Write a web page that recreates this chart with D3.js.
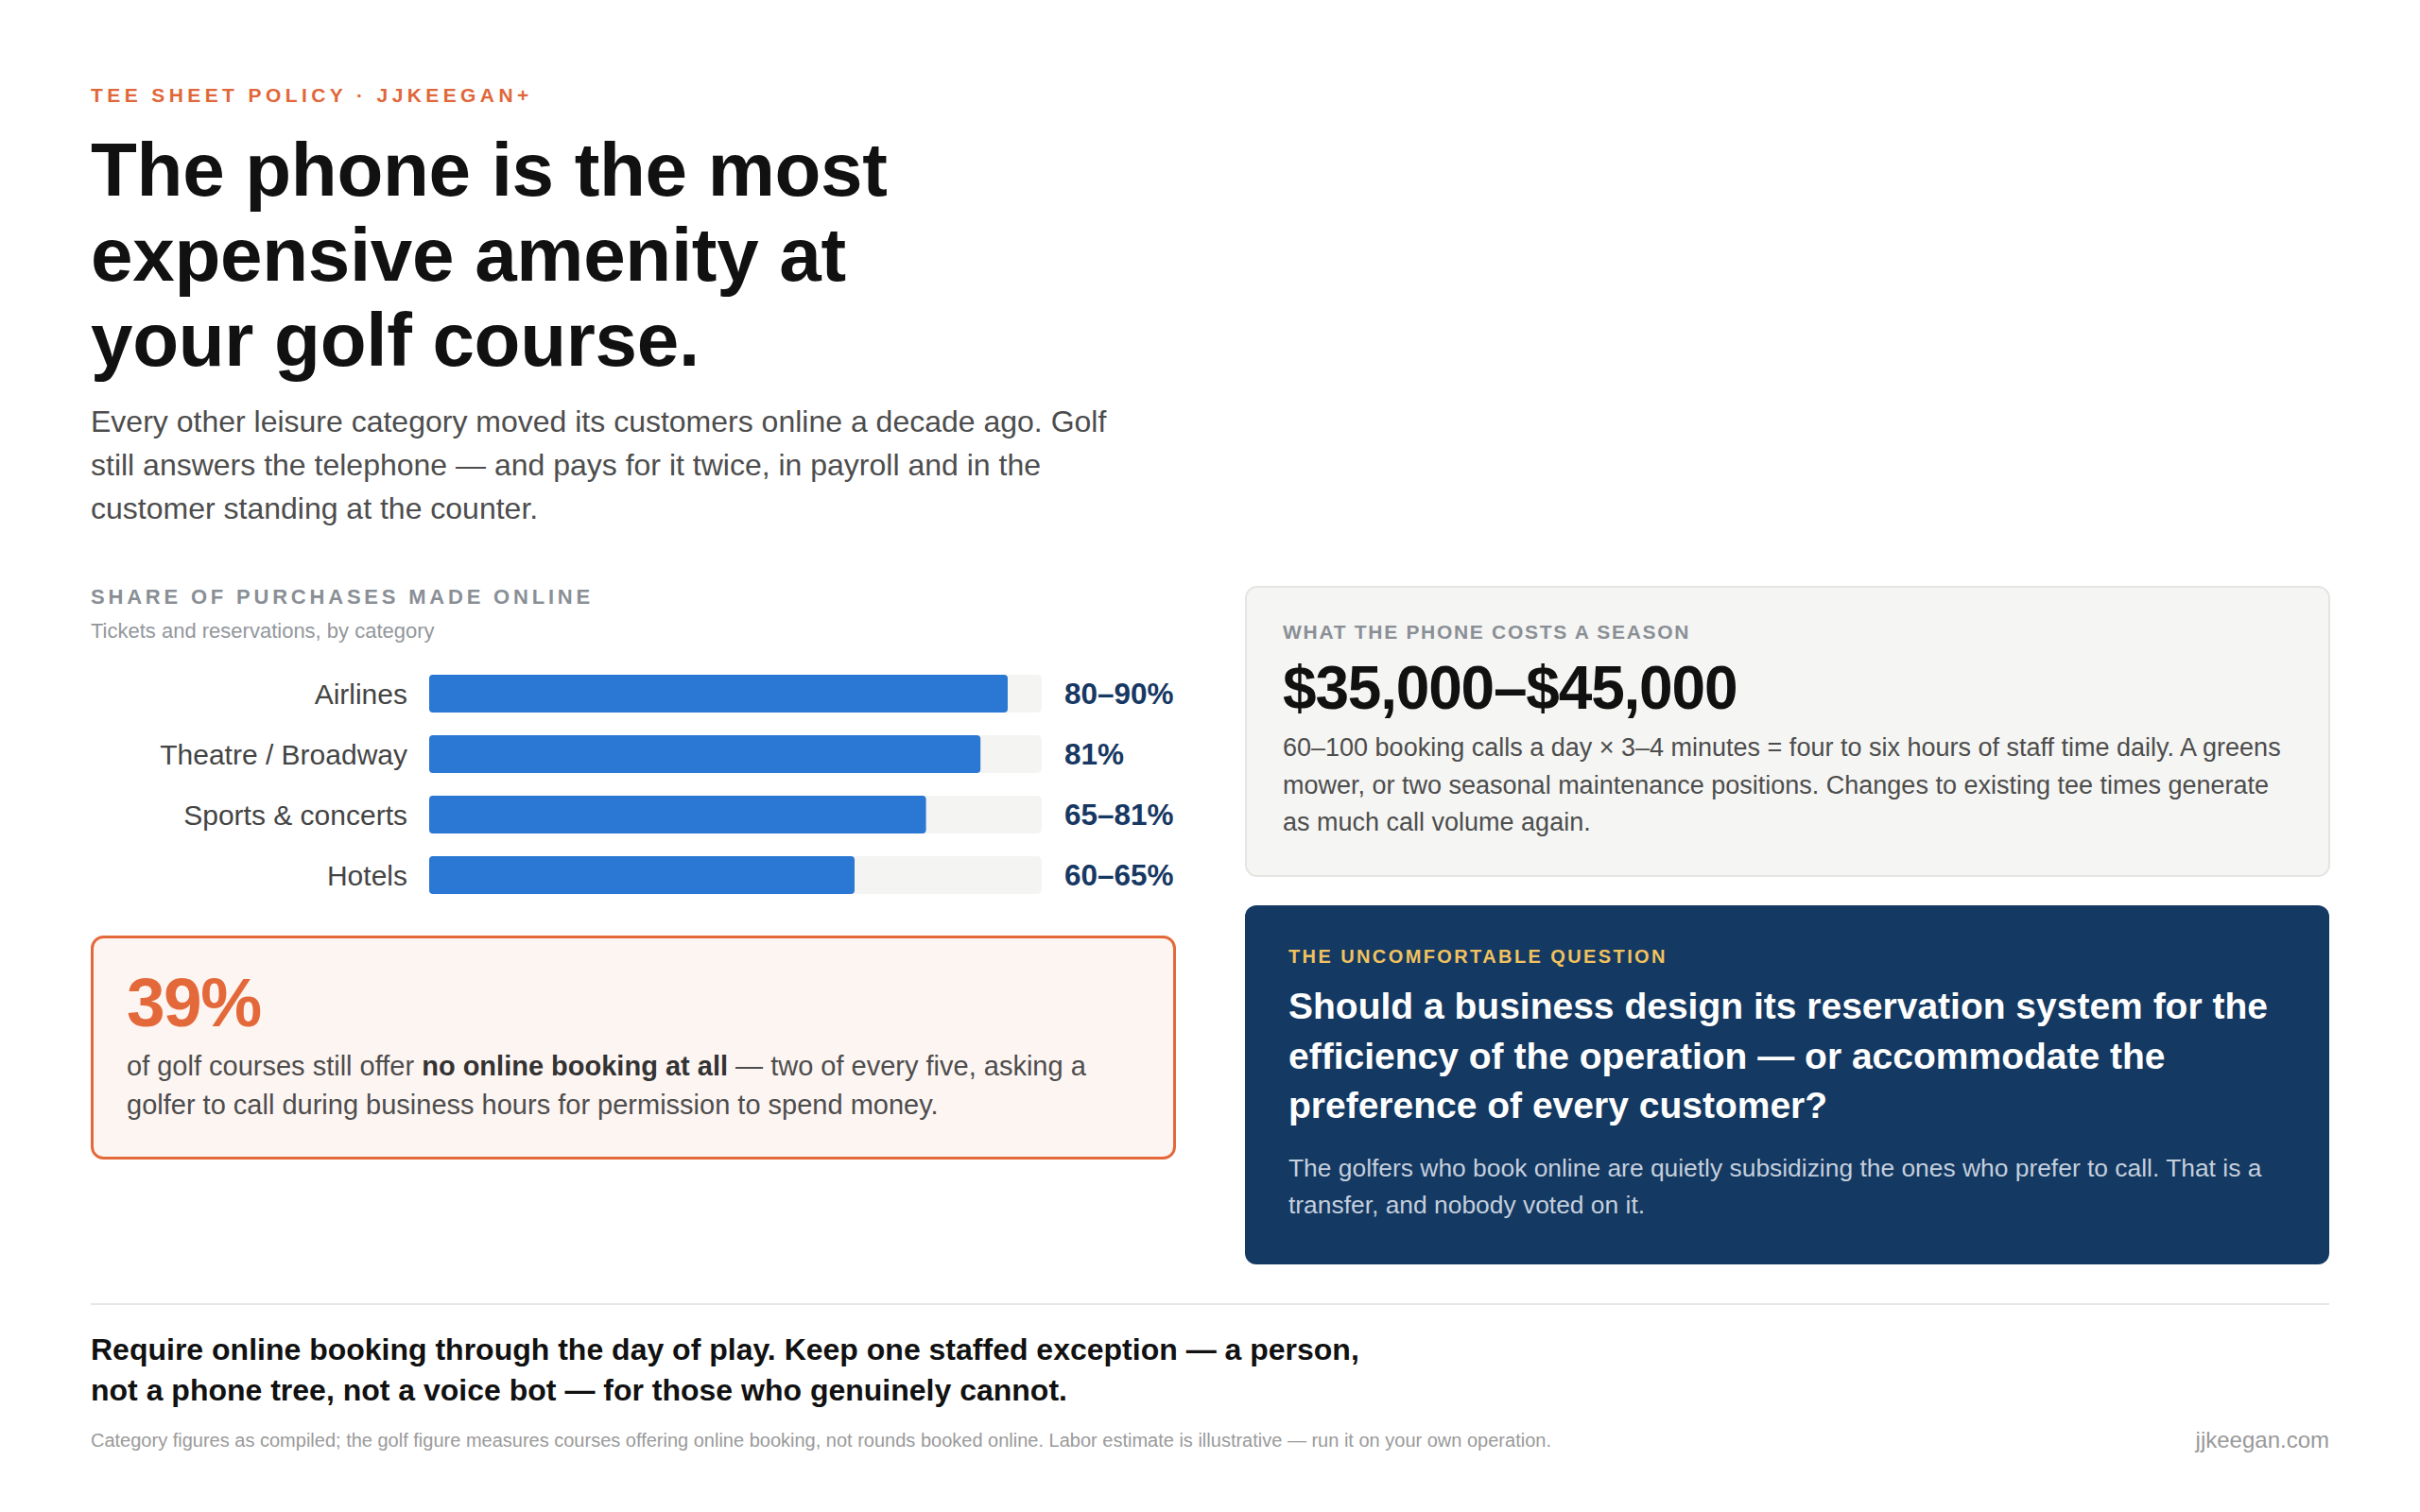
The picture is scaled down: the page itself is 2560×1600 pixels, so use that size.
<!DOCTYPE html>
<meta charset="utf-8">
<style>
  body { margin: 0; background: #fff; }
  svg text { font-family: "Liberation Sans", Arial, Helvetica, sans-serif; }
</style>
<svg width="2560" height="1600"></svg>
<script src="https://d3js.org/d3.v7.min.js"></script>
<script>

// ---- data ----
var categories = ["Airlines", "Theatre / Broadway", "Sports & concerts", "Hotels"];
var barValues = [85, 81, 73, 62.5];          // bar length (mid of range), percent
var valueLabels = ["80–90%", "81%", "65–81%", "60–65%"];
var axisMax = 90;

var titleLines = ["The phone is the most", "expensive amenity at", "your golf course."];
var deckLines = [
  "Every other leisure category moved its customers online a decade ago. Golf",
  "still answers the telephone — and pays for it twice, in payroll and in the",
  "customer standing at the counter."
];
var costLines = [
  "60–100 booking calls a day × 3–4 minutes = four to six hours of staff time daily. A greens",
  "mower, or two seasonal maintenance positions. Changes to existing tee times generate",
  "as much call volume again."
];
var questionLines = [
  "Should a business design its reservation system for the",
  "efficiency of the operation — or accommodate the",
  "preference of every customer?"
];
var answerLines = [
  "The golfers who book online are quietly subsidizing the ones who prefer to call. That is a",
  "transfer, and nobody voted on it."
];
var policyLines = [
  "Require online booking through the day of play. Keep one staffed exception — a person,",
  "not a phone tree, not a voice bot — for those who genuinely cannot."
];

var svg = d3.select("svg"),
    left = 96, right = 2464,
    colW = 1148, col2 = 1317;

function lines(g, arr, x, y0, lh) {
  g.selectAll(null).data(arr).enter().append("tspan")
    .attr("x", x).attr("y", function(d, i) { return y0 + i * lh; })
    .text(function(d) { return d; });
}

// ---- header ----
svg.append("text")
    .attr("x", left).attr("y", 108)
    .attr("font-size", 21).attr("font-weight", "bold")
    .attr("letter-spacing", 4.4).attr("fill", "#e0673a")
    .text("TEE SHEET POLICY · JJKEEGAN+");

var title = svg.append("text")
    .attr("font-size", 80).attr("font-weight", "bold").attr("fill", "#111")
    .attr("letter-spacing", -0.3);
lines(title, titleLines, left, 207, 90);

var deck = svg.append("text").attr("font-size", 32).attr("fill", "#4d4d4d");
lines(deck, deckLines, left, 457, 46);

// ---- bar chart ----
svg.append("text")
    .attr("x", left).attr("y", 639)
    .attr("font-size", 22).attr("font-weight", "bold")
    .attr("letter-spacing", 3.8).attr("fill", "#8a8f96")
    .text("SHARE OF PURCHASES MADE ONLINE");

svg.append("text")
    .attr("x", left).attr("y", 675)
    .attr("font-size", 22).attr("fill", "#93979c")
    .text("Tickets and reservations, by category");

var x = d3.scaleLinear().domain([0, axisMax]).range([454, 1102]);
var y = d3.scaleBand().domain(categories).range([702, 958])
    .paddingInner(0.375).paddingOuter(0.1875);

var rows = svg.append("g").selectAll("g")
    .data(categories).enter().append("g");

rows.append("rect")
    .attr("x", x(0)).attr("y", function(d) { return y(d); })
    .attr("width", x(axisMax) - x(0)).attr("height", y.bandwidth())
    .attr("rx", 5).attr("fill", "#f4f4f2");

rows.append("rect")
    .attr("x", x(0)).attr("y", function(d) { return y(d); })
    .attr("width", function(d, i) { return x(barValues[i]) - x(0); })
    .attr("height", y.bandwidth())
    .attr("rx", 4).attr("fill", "#2a77d4");

rows.append("text")
    .attr("x", x(0) - 23).attr("y", function(d) { return y(d) + y.bandwidth() / 2; })
    .attr("dy", "0.35em").attr("text-anchor", "end")
    .attr("font-size", 30).attr("fill", "#444")
    .text(function(d) { return d; });

rows.append("text")
    .attr("x", x(axisMax) + 24).attr("y", function(d) { return y(d) + y.bandwidth() / 2; })
    .attr("dy", "0.35em")
    .attr("font-size", 31.5).attr("font-weight", "bold").attr("fill", "#173863")
    .text(function(d, i) { return valueLabels[i]; });

// ---- 39% callout ----
svg.append("rect")
    .attr("x", left + 1.5).attr("y", 991.5).attr("width", colW - 3).attr("height", 234)
    .attr("rx", 12).attr("fill", "#fdf5f2").attr("stroke", "#e4693a").attr("stroke-width", 3);

svg.append("text")
    .attr("x", 134).attr("y", 1086)
    .attr("font-size", 73).attr("font-weight", "bold").attr("letter-spacing", -1.5)
    .attr("fill", "#e4693a").text("39%");

var golf = svg.append("text").attr("font-size", 29).attr("fill", "#4d4d4d");
var g1 = golf.append("tspan").attr("x", 134).attr("y", 1138);
g1.append("tspan").text("of golf courses still offer ");
g1.append("tspan").attr("font-weight", "bold").attr("fill", "#333").text("no online booking at all");
g1.append("tspan").text(" — two of every five, asking a");
golf.append("tspan").attr("x", 134).attr("y", 1179)
    .text("golfer to call during business hours for permission to spend money.");

// ---- cost card ----
svg.append("rect")
    .attr("x", col2 + 1).attr("y", 621).attr("width", 1146).attr("height", 306)
    .attr("rx", 12).attr("fill", "#f5f5f3").attr("stroke", "#e4e4e1").attr("stroke-width", 2);

svg.append("text")
    .attr("x", 1357).attr("y", 676)
    .attr("font-size", 21).attr("font-weight", "bold")
    .attr("letter-spacing", 1.7).attr("fill", "#8a8f96")
    .text("WHAT THE PHONE COSTS A SEASON");

svg.append("text")
    .attr("x", 1357).attr("y", 750)
    .attr("font-size", 64).attr("font-weight", "bold").attr("letter-spacing", -1.2)
    .attr("fill", "#111").text("$35,000–$45,000");

var cost = svg.append("text").attr("font-size", 27).attr("fill", "#4d4d4d");
lines(cost, costLines, 1357, 800, 39.5);

// ---- question card ----
svg.append("rect")
    .attr("x", col2).attr("y", 958).attr("width", 1147).attr("height", 380)
    .attr("rx", 12).attr("fill", "#143962");

svg.append("text")
    .attr("x", 1363).attr("y", 1019)
    .attr("font-size", 20).attr("font-weight", "bold")
    .attr("letter-spacing", 2.4).attr("fill", "#f2c25e")
    .text("THE UNCOMFORTABLE QUESTION");

var q = svg.append("text").attr("font-size", 39).attr("font-weight", "bold").attr("fill", "#fff");
lines(q, questionLines, 1363, 1078, 52.5);

var a = svg.append("text").attr("font-size", 26.4).attr("fill", "#c4cfdd");
lines(a, answerLines, 1363, 1245, 38.5);

// ---- footer ----
svg.append("line")
    .attr("x1", left).attr("x2", right).attr("y1", 1380).attr("y2", 1380)
    .attr("stroke", "#e6e6e4").attr("stroke-width", 2);

var pol = svg.append("text").attr("font-size", 32).attr("font-weight", "bold").attr("fill", "#111");
lines(pol, policyLines, left, 1439, 43);

svg.append("text")
    .attr("x", left).attr("y", 1531)
    .attr("font-size", 20).attr("fill", "#9a9a9a")
    .text("Category figures as compiled; the golf figure measures courses offering online booking, not rounds booked online. Labor estimate is illustrative — run it on your own operation.");

svg.append("text")
    .attr("x", right).attr("y", 1532).attr("text-anchor", "end")
    .attr("font-size", 24).attr("fill", "#999")
    .text("jjkeegan.com");

</script>
